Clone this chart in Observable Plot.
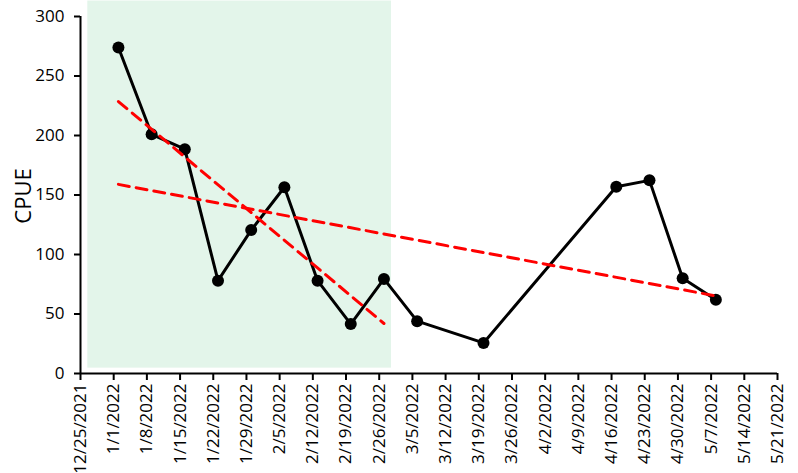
<!DOCTYPE html>
<html><head><meta charset="utf-8">
<script src="https://cdn.jsdelivr.net/npm/d3@7"></script>
<script src="https://cdn.jsdelivr.net/npm/@observablehq/plot@0.6"></script>
<style>body{margin:0;background:#fff}</style>
</head><body><div id="chart"></div>
<script>
// Sampling dates and CPUE values
const sampleDates = ["1/2/2022","1/9/2022","1/16/2022","1/23/2022","1/30/2022","2/6/2022","2/13/2022","2/20/2022","2/27/2022","3/6/2022","3/20/2022","4/17/2022","4/24/2022","5/1/2022","5/8/2022"];
const cpue = [274, 201, 188.5, 78, 120.5, 156.5, 78, 41.5, 79.5, 44, 25.7, 157, 162.3, 80, 62];
const earlyCount = 9; // samples inside the shaded period
// Shaded period
const shadePeriod = ["12/26/2021 13", "2/28/2022 14"];
const shadeRange = [4.5, 313];
// Axis ticks
const xTickLabels = ["12/25/2021","1/1/2022","1/8/2022","1/15/2022","1/22/2022","1/29/2022","2/5/2022","2/12/2022","2/19/2022","2/26/2022","3/5/2022","3/12/2022","3/19/2022","3/26/2022","4/2/2022","4/9/2022","4/16/2022","4/23/2022","4/30/2022","5/7/2022","5/14/2022","5/21/2022"];
const yTicks = [0, 50, 100, 150, 200, 250, 300];
const yLabel = "CPUE";

const parse = d3.utcParse("%m/%d/%Y");
const parseH = d3.utcParse("%m/%d/%Y %H");
const fmt = d3.utcFormat("%-m/%-d/%Y");
const all = sampleDates.map((d, i) => ({date: parse(d), cpue: cpue[i]}));
const early = all.slice(0, earlyCount);
const xTicks = xTickLabels.map(parse);
const shade = [{x1: parseH(shadePeriod[0]), x2: parseH(shadePeriod[1]), y1: shadeRange[0], y2: shadeRange[1]}];

const trendStyle = {x: "date", y: "cpue", ci: 0, stroke: "#ff0000", strokeWidth: 3, strokeDasharray: "11,7"};

const chart = Plot.plot({
  width: 798, height: 473,
  marginLeft: 80, marginRight: 21, marginTop: 16, marginBottom: 100,
  style: {fontFamily: "Open Sans", fontSize: "17px", background: "#fff", color: "#000"},
  x: {type: "utc", domain: [xTicks[0], xTicks[xTicks.length - 1]]},
  y: {domain: [0, 300]},
  marks: [
    Plot.rect(shade, {x1: "x1", x2: "x2", y1: "y1", y2: "y2", fill: "#e3f5ea"}),
    Plot.line(all, {x: "date", y: "cpue", stroke: "#000", strokeWidth: 3}),
    Plot.dot(all, {x: "date", y: "cpue", r: 6, fill: "#000"}),
    Plot.linearRegressionY(early, trendStyle),
    Plot.linearRegressionY(all, trendStyle),
    Plot.axisY({ticks: yTicks, tickSize: 6, tickPadding: 10, strokeWidth: 2, label: null, fontSize: 17}),
    Plot.axisX({ticks: xTicks, tickFormat: fmt, tickRotate: -90, tickSize: 7, tickPadding: 3, strokeWidth: 2, label: null, fontSize: 17}),
    Plot.ruleX([xTicks[0]], {y1: 0, y2: 300, strokeWidth: 2}),
    Plot.ruleY([0], {strokeWidth: 2}),
    Plot.text([yLabel], {frameAnchor: "left", dx: -57, dy: 1, rotate: -90, textAnchor: "middle", fontSize: 22})
  ]
});
document.getElementById("chart").appendChild(chart);
</script>
</body></html>
